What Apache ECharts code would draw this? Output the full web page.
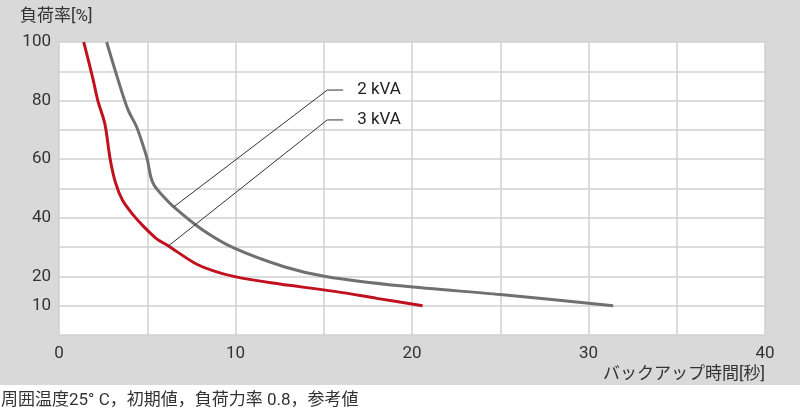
<!DOCTYPE html><html><head><meta charset="utf-8">
<script src="https://cdn.jsdelivr.net/npm/echarts@6/dist/echarts.min.js"></script>
<style>body{margin:0;background:#fff}#c{width:800px;height:412px}</style></head><body><div id="c"></div>
<script>
const redData=[[1.4,100],[1.9,88],[2.2,80],[2.6,72],[2.9,60],[3.2,52],[3.6,46],[4.2,41],[4.8,37],[5.5,33],[6.2,30.4],[7.7,24.5],[8.8,21.8],[9.9,20],[12,17.8],[15.7,14.8],[18,12.5],[20.6,10]];
const grayData=[[2.7,100],[3.3,88],[3.9,77],[4.4,71],[4.8,64],[5.0,60],[5.2,54],[5.4,51],[5.8,48],[6.5,43.7],[8.1,36],[9.9,29.7],[12.8,23.2],[15.1,20],[19.5,16.7],[25,13.8],[31.4,10]];
const ann2=[[6.5,43.7],[15.2,83.6],[16.1,83.6]];
const ann3=[[6.2,30.4],[15.2,73.4],[16.1,73.4]];
const labels=['2 kVA','3 kVA'];
const yLabels=[10,20,40,60,80,100];
const c=echarts.init(document.getElementById('c'));
const ff='Roboto,"Noto Sans CJK JP",sans-serif';
const fs=17;
c.setOption({
 animation:false,
 graphic:[{type:'rect',z:-10,shape:{x:0,y:0,width:800,height:385},style:{fill:'#d9d9d9'}},
  {type:'text',left:20,top:8,style:{text:'負荷率[%]',font:fs+'px '+ff,fill:'#333'}},
  {type:'text',right:35,top:366,style:{text:'バックアップ時間[秒]',font:fs+'px '+ff,fill:'#333'}},
  {type:'text',left:1,top:392,style:{text:'周囲温度25° C，初期値，負荷力率 0.8，参考値',font:fs+'px '+ff,fill:'#333'}}],
 grid:{left:59,right:35,top:42,bottom:77,show:true,backgroundColor:'#fff',borderWidth:0},
 xAxis:{type:'value',min:0,max:40,interval:5,axisLine:{show:false},axisTick:{show:false},
  splitLine:{lineStyle:{color:'#d0d0d0',width:1.5}},
  axisLabel:{color:'#333',fontSize:fs,fontFamily:ff,margin:10,formatter:v=>v%10===0?String(v):''}},
 yAxis:{type:'value',min:0,max:100,interval:10,axisLine:{show:false},axisTick:{show:false},
  splitLine:{lineStyle:{color:'#d0d0d0',width:1.5}},
  axisLabel:{color:'#333',fontSize:fs,fontFamily:ff,margin:8,formatter:v=>yLabels.includes(v)?String(v):''}},
 series:[
  {type:'line',data:grayData,smooth:0.3,showSymbol:false,lineStyle:{color:'#707070',width:3}},
  {type:'line',data:redData,smooth:0.3,showSymbol:false,lineStyle:{color:'#c0121e',width:3}},
  {type:'line',data:ann2,showSymbol:false,lineStyle:{color:'#333',width:1},
   endLabel:{show:true,formatter:labels[0],color:'#222',fontSize:fs,fontFamily:ff,distance:14}},
  {type:'line',data:ann3,showSymbol:false,lineStyle:{color:'#333',width:1},
   endLabel:{show:true,formatter:labels[1],color:'#222',fontSize:fs,fontFamily:ff,distance:14}}
 ]});
</script></body></html>
